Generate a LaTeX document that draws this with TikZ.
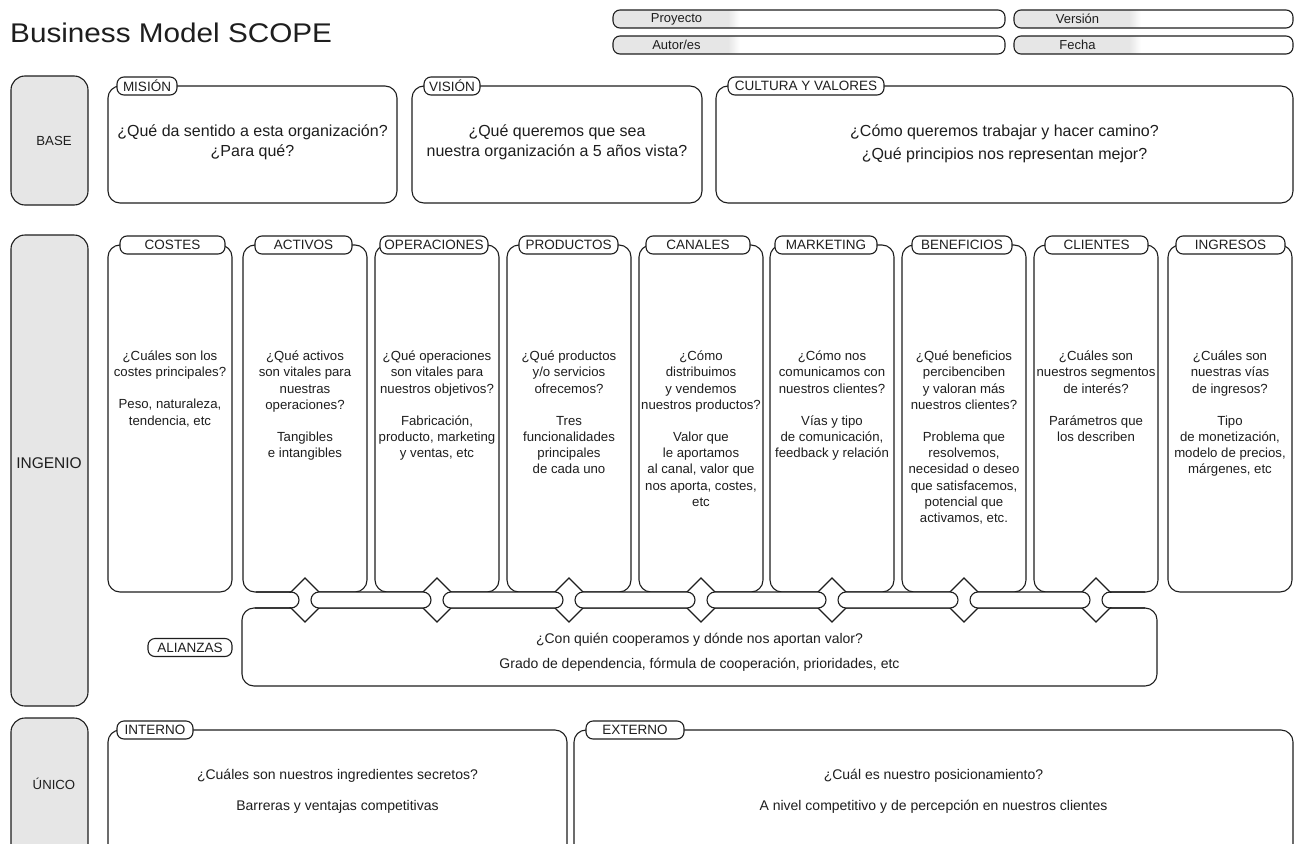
\documentclass[tikz,border=0pt]{standalone}
\usepackage{fontspec}
\usepackage{graphicx}
\setmainfont{Liberation Sans}
\usetikzlibrary{calc,shapes.geometric}

\definecolor{ink}{HTML}{1E1E1E}
\definecolor{labelgray}{HTML}{E6E6E6}
\definecolor{fieldgray}{HTML}{E6E6E6}

\tikzset{
  panel/.style={draw=ink, line width=1.1pt, rounded corners=12pt, fill=white,
    inner sep=0pt, outer sep=0pt},
  sidebox/.style={panel, fill=labelgray, rounded corners=14pt},
  tab/.style={draw=ink, line width=1.1pt, rounded corners=7pt, fill=white,
    minimum height=18pt, inner sep=0pt, outer sep=0pt,
    font=\fontsize{13.5}{16}\selectfont, text=ink},
  fieldbox/.style={draw=ink, line width=1.1pt, rounded corners=7pt,
    inner sep=0pt, outer sep=0pt},
  fieldtext/.style={font=\fontsize{13}{15}\selectfont, text=ink, inner sep=0pt},
  sidetext/.style={font=\fontsize{13.2}{15}\selectfont, text=ink},
  basetext/.style={font=\fontsize{16}{20}\selectfont, text=ink, align=center},
  coltxt/.style={font=\fontsize{13.2}{16.3}\selectfont, text=ink, align=center,
    anchor=north, inner sep=0pt},
  lowtext/.style={font=\fontsize{14}{25}\selectfont, text=ink, align=center},
  joint/.style={diamond, aspect=1, draw=ink, line width=1.1pt, fill=white,
    minimum width=44pt, minimum height=44pt, inner sep=0pt, outer sep=0pt},
  capsule/.style={draw=ink, line width=1.1pt, fill=white, rounded corners=8pt},
}

% box node from its corners: style, name, x1, y1, x2, y2
\newcommand{\mkbox}[6][panel]{%
  \node[#1, minimum width={#5-#3}, minimum height={#6-#4}] (#2)
    at ({(#3+#5)/2},{(#4+#6)/2}) {};}
% tab label on a box edge: name, text, x1, x2, y
\newcommand{\mktab}[5]{%
  \node[tab, minimum width={#4-#3}] (#1) at ({(#3+#4)/2},#5) {#2};}
% text block at the top of an ingenio column
\newcommand{\coltext}[2]{%
  \node[coltxt] at (#1.north |- texttop) {\strut #2};}
% header field with grey label area: name, x1, y1, x2, y2, grey width, label
\newcommand{\mkfield}[7]{%
  \begin{scope}
    \clip[rounded corners=7pt] (#2,#3) rectangle (#4,#5);
    \fill[fieldgray] (#2,#3) rectangle ({#2+#6-12},#5);
    \shade[left color=fieldgray, right color=white] ({#2+#6-12},#3) rectangle ({#2+#6},#5);
  \end{scope}
  \mkbox[fieldbox]{#1}{#2}{#3}{#4}{#5}
  \node[fieldtext] at ({#2+#6/2},{(#3+#5)/2}) {#7};}

\begin{document}
\begin{tikzpicture}[x=1pt,y=-1pt]
\useasboundingbox (0,0) rectangle (1300,843);
\clip (0,0) rectangle (1300,843);
\fill[white] (0,0) rectangle (1300,843);

% title and header fields
\node[anchor=base west, inner sep=0pt, text=ink, font=\fontsize{27}{30}\selectfont]
  (title) at (10,43) {\scalebox{1.1}[1]{Business Model SCOPE}};
\mkfield{proyecto}{613}{10}{1005}{28}{127}{Proyecto}
\mkfield{autores}{613}{36}{1005}{54}{127}{Autor/es}
\mkfield{version}{1014}{10}{1293}{28}{127}{Versión}
\mkfield{fecha}{1014}{36}{1293}{54}{127}{Fecha}

% row labels
\mkbox[sidebox]{base}{11}{76}{88}{205}
\mkbox[sidebox]{ingenio}{11}{235}{88}{706}
\mkbox[sidebox]{unico}{11}{718}{88}{880}
\node[sidetext] at (54,141) {BASE};
\node[sidetext, font=\fontsize{15.5}{18}\selectfont] at (49,463) {INGENIO};
\node[sidetext] at (54,784) {ÚNICO};

% BASE row
\mkbox{mision}{108}{86}{397}{203}
\mkbox{vision}{412}{86}{702}{203}
\mkbox{cultura}{716}{86}{1293}{203}
\mktab{tmision}{MISIÓN}{117}{177}{86}
\mktab{tvision}{VISIÓN}{424}{480}{86}
\mktab{tcultura}{CULTURA Y VALORES}{728}{884}{86}
\node[basetext] at (252.5,142) {¿Qué da sentido a esta organización?\\¿Para qué?};
\node[basetext] at (557,142) {¿Qué queremos que sea\\nuestra organización a 5 años vista?};
\node[basetext, font=\fontsize{16}{23}\selectfont] at (1004.5,143.5)
  {¿Cómo queremos trabajar y hacer camino?\\¿Qué principios nos representan mejor?};

% INGENIO columns
\mkbox{costes}{108}{245}{232}{592}
\mkbox{activos}{243}{245}{367}{592}
\mkbox{operaciones}{375}{245}{499}{592}
\mkbox{productos}{507}{245}{631}{592}
\mkbox{canales}{639}{245}{763}{592}
\mkbox{marketing}{770}{245}{894}{592}
\mkbox{beneficios}{902}{245}{1026}{592}
\mkbox{clientes}{1034}{245}{1158}{592}
\mkbox{ingresos}{1168}{245}{1292}{592}

% alliances box
\mkbox{alianzas}{242}{608}{1157}{686}

% joints between the columns and the alliances box
\foreach \c [count=\i] in {activos,operaciones,productos,canales,marketing,beneficios,clientes}
  \node[joint] (j\i) at ($(\c.south)+(0,8)$) {};

% links between the joints
\foreach \i [evaluate=\i as \k using int(\i+1)] in {1,...,6}
  \draw[capsule] ([xshift=6pt,yshift=8pt]j\i.center) rectangle ([xshift=-6pt,yshift=-8pt]j\k.center);
% open-ended links at both ends of the row
\fill[white] (262,593) rectangle ([xshift=-8pt]j1.center |- 0,607);
\draw[ink, line width=1.1pt, rounded corners=8pt]
  (256,592) -- ([xshift=-6pt]j1.center |- 0,592) -- ([xshift=-6pt]j1.center |- 0,608) -- (255,608);
\fill[white] ([xshift=8pt]j7.center |- 0,593) rectangle (1142,607);
\draw[ink, line width=1.1pt, rounded corners=8pt]
  (1145,592) -- ([xshift=6pt]j7.center |- 0,592) -- ([xshift=6pt]j7.center |- 0,608) -- (1145,608);

% column tabs
\mktab{tcostes}{COSTES}{120}{225}{245}
\mktab{tactivos}{ACTIVOS}{255}{352}{245}
\mktab{toperaciones}{OPERACIONES}{380}{488}{245}
\mktab{tproductos}{PRODUCTOS}{519}{618}{245}
\mktab{tcanales}{CANALES}{646}{750}{245}
\mktab{tmarketing}{MARKETING}{775}{877}{245}
\mktab{tbeneficios}{BENEFICIOS}{912}{1012}{245}
\mktab{tclientes}{CLIENTES}{1045}{1148}{245}
\mktab{tingresos}{INGRESOS}{1176}{1285}{245}
\mktab{talianzas}{ALIANZAS}{148}{232}{647.5}

% column questions
\coordinate (texttop) at (0,349);
\coltext{costes}{¿Cuáles son los\\costes principales?\\[15.5pt]Peso, naturaleza,\\tendencia, etc}
\coltext{activos}{¿Qué activos\\son vitales para\\nuestras\\operaciones?\\[15.5pt]Tangibles\\e intangibles}
\coltext{operaciones}{¿Qué operaciones\\son vitales para\\nuestros objetivos?\\[15.5pt]Fabricación,\\producto, marketing\\y ventas, etc}
\coltext{productos}{¿Qué productos\\y/o servicios\\ofrecemos?\\[15.5pt]Tres\\funcionalidades\\principales\\de cada uno}
\coltext{canales}{¿Cómo\\distribuimos\\y vendemos\\nuestros productos?\\[15.5pt]Valor que\\le aportamos\\al canal, valor que\\nos aporta, costes,\\etc}
\coltext{marketing}{¿Cómo nos\\comunicamos con\\nuestros clientes?\\[15.5pt]Vías y tipo\\de comunicación,\\feedback y relación}
\coltext{beneficios}{¿Qué beneficios\\percibenciben\\y valoran más\\nuestros clientes?\\[15.5pt]Problema que\\resolvemos,\\necesidad o deseo\\que satisfacemos,\\potencial que\\activamos, etc.}
\coltext{clientes}{¿Cuáles son\\nuestros segmentos\\de interés?\\[15.5pt]Parámetros que\\los describen}
\coltext{ingresos}{¿Cuáles son\\nuestras vías\\de ingresos?\\[15.5pt]Tipo\\de monetización,\\modelo de precios,\\márgenes, etc}

\node[lowtext] at (699.5,652.5)
  {¿Con quién cooperamos y dónde nos aportan valor?\\Grado de dependencia, fórmula de cooperación, prioridades, etc};

% ÚNICO row
\mkbox{interno}{108}{730}{567}{880}
\mkbox{externo}{574}{730}{1293}{880}
\mktab{tinterno}{INTERNO}{117}{193}{730}
\mktab{texterno}{EXTERNO}{586}{684}{730}
\node[lowtext, font=\fontsize{14}{31}\selectfont] at (337.5,791.5)
  {¿Cuáles son nuestros ingredientes secretos?\\Barreras y ventajas competitivas};
\node[lowtext, font=\fontsize{14}{31}\selectfont] at (933.5,791.5)
  {¿Cuál es nuestro posicionamiento?\\A nivel competitivo y de percepción en nuestros clientes};
\end{tikzpicture}
\end{document}
